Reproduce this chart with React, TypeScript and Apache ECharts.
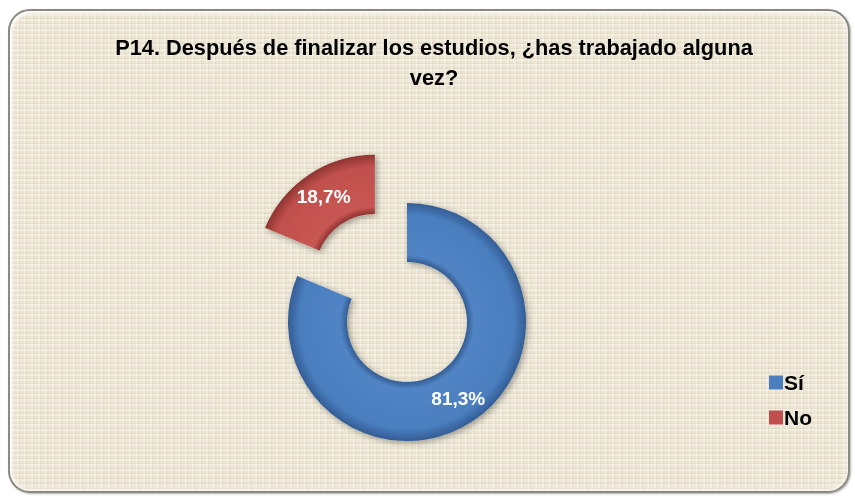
import React, { useEffect, useRef } from "react";
import * as echarts from "echarts";

const categories = ["Sí", "No"];
const values = [81.3, 18.7];
const labels = ["81,3%", "18,7%"];
const titleLines = ["P14. Después de finalizar los estudios, ¿has trabajado alguna", "vez?"];

const FONT = "'Liberation Sans', Arial, sans-serif";

export default function App() {
  const ref = useRef<HTMLDivElement>(null);
  useEffect(() => {
    if (!ref.current) return;
    const chart = echarts.init(ref.current, null, { renderer: "svg" });
    const cx = 407, cy = 322, r0 = 60, r1 = 119, off = 58;
    const f0 = r0 / r1;
    const grad = (dark: string, light: string, base: string) =>
      new echarts.graphic.RadialGradient(cx, cy, r1, [
        { offset: f0, color: dark },
        { offset: f0 + 0.06, color: light },
        { offset: 0.9, color: base },
        { offset: 1, color: dark },
      ], true);
    const colors = [
      grad("#335d94", "#5184c4", "#4a7ebf"),
      grad("#8e3431", "#c85652", "#c0504d"),
    ];
    const legendColors = ["#4a7ebf", "#c0504d"];
    chart.setOption({
      animation: false,
      graphic: titleLines.map((t, i) => ({
        type: "text",
        x: 434,
        y: 47 + i * 30,
        scaleX: 0.99,
        scaleY: 1.04,
        style: {
          text: t,
          font: `bold 22px ${FONT}`,
          fill: "#000",
          textAlign: "center",
          textVerticalAlign: "middle",
        },
      })),
      legend: {
        orient: "vertical",
        left: 764,
        top: 367,
        itemWidth: 14,
        itemHeight: 14,
        itemGap: 14,
        icon: "rect",
        data: categories.map((c, i) => ({ name: c, itemStyle: { color: legendColors[i] } })),
        textStyle: { fontFamily: FONT, fontWeight: "bold", fontSize: 21, color: "#000", padding: [0, 0, 0, -4] },
      },
      series: [
        {
          type: "pie",
          center: [cx, cy],
          radius: [r0, r1],
          startAngle: 90,
          clockwise: true,
          selectedMode: "single",
          selectedOffset: off,
          avoidLabelOverlap: false,
          label: {
            show: true,
            position: "inside",
            fontFamily: FONT,
            fontWeight: "bold",
            fontSize: 19,
            color: "#fff",
            formatter: (p: any) => labels[p.dataIndex],
          },
          labelLine: { show: false },
          emphasis: { disabled: true },
          itemStyle: { shadowBlur: 6, shadowColor: "rgba(0,0,0,0.35)", shadowOffsetX: 2, shadowOffsetY: 2 },
          data: categories.map((c, i) => ({
            name: c,
            value: values[i],
            selected: i === 1,
            itemStyle: { color: colors[i] },
          })),
        },
      ],
    });
    return () => chart.dispose();
  }, []);

  const texture =
    "repeating-linear-gradient(0deg, rgba(255,255,255,0.3) 0px, rgba(255,255,255,0.3) 2px, rgba(120,110,80,0.06) 2px, rgba(120,110,80,0.06) 3px, rgba(255,255,255,0) 3px, rgba(255,255,255,0) 5px)," +
    "repeating-linear-gradient(90deg, rgba(255,255,255,0.25) 0px, rgba(255,255,255,0.25) 2px, rgba(120,110,80,0.07) 2px, rgba(120,110,80,0.07) 3px, rgba(255,255,255,0) 3px, rgba(255,255,255,0) 7px)";

  return (
    <div>
      <div
        style={{
          position: "fixed",
          left: 8,
          top: 9,
          width: 842,
          height: 484,
          boxSizing: "border-box",
          borderRadius: 22,
          border: "2px solid #8c8a84",
          backgroundColor: "#ebe4d0",
          backgroundImage: texture,
          boxShadow: "inset 0 0 6px rgba(255,255,255,0.9), inset 2px 2px 3px rgba(255,255,255,0.8), 1px 1px 2px rgba(0,0,0,0.3)",
        }}
      />
      <div ref={ref} style={{ position: "fixed", left: 0, top: 0, width: 855, height: 496 }} />
    </div>
  );
}
